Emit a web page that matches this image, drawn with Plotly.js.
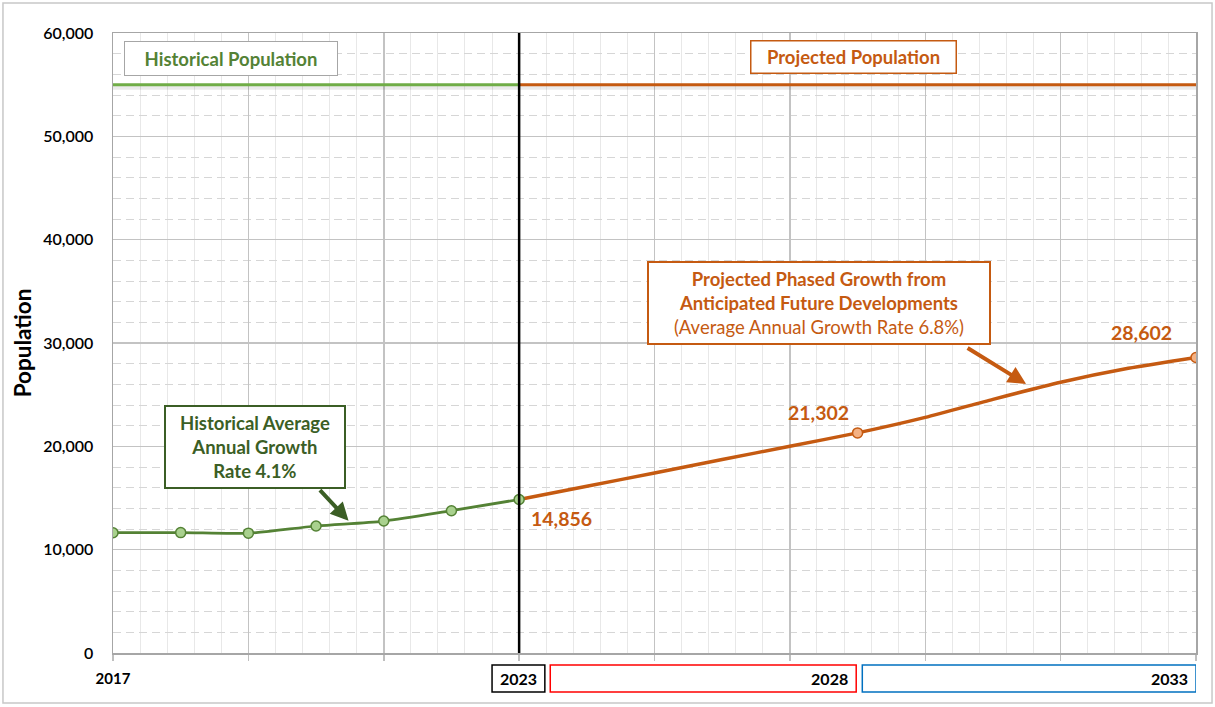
<!DOCTYPE html>
<html>
<head>
<meta charset="utf-8">
<script src="https://cdn.plot.ly/plotly-3.0.1.min.js"></script>
<style>
  html, body { margin: 0; padding: 0; background: #ffffff; }
  #chart { width: 1215px; height: 707px; }
</style>
</head>
<body>
<div id="chart"></div>
<script>
// Population history and projection
const histYears = [2017, 2018, 2019, 2020, 2021, 2022, 2023];
const histPop   = [11640, 11650, 11600, 12290, 12770, 13770, 14856];

const projYears = [2023, 2024, 2025, 2026, 2027, 2028, 2029, 2030, 2031, 2032, 2033];
const projPop   = [14856, 16140, 17420, 18720, 20010, 21302, 22800, 24550, 26200, 27550, 28602];

// years whose projected value is labelled and marked
const labeledYears = [2023, 2028, 2033];

// x-axis tick labels (only the first year is printed on the axis)
const xTickVals  = [2017, 2019, 2021, 2023, 2025, 2027, 2029, 2031, 2033];
const xTickText  = ['2017', '', '', '', '', '', '', '', ''];

// period boxes under the axis
const periodLabels = ['2023', '2028', '2033'];

// band headings
const bandLevel = 55000;
const histHeading = 'Historical Population';
const projHeading = 'Projected Population';
const histNote = 'Historical Average<br>Annual Growth<br>Rate 4.1%';
const projNote = '<b>Projected Phased Growth from</b><br><b>Anticipated Future Developments</b><br>(Average Annual Growth Rate 6.8%)';

const GREEN = '#548235';
const DARK_GREEN = '#3b5e25';
const LIGHT_GREEN = '#a9d18e';
const BAND_GREEN = '#70ad47';
const ORANGE = '#c55a11';
const LIGHT_ORANGE = '#f4b183';
const FONT = 'Lato, "Open Sans", "DejaVu Sans", sans-serif';

const fmt = v => v.toLocaleString('en-US');
const valueAt = yr => projPop[projYears.indexOf(yr)];

const traces = [
  {
    x: projYears, y: projPop, type: 'scatter', mode: 'lines',
    line: { color: ORANGE, width: 3.5, shape: 'spline', smoothing: 0.6 },
    hoverinfo: 'skip', showlegend: false
  },
  {
    x: histYears, y: histPop, type: 'scatter', mode: 'lines+markers',
    line: { color: GREEN, width: 2.75, shape: 'spline', smoothing: 0.8 },
    marker: { size: 10, color: LIGHT_GREEN, line: { color: GREEN, width: 1.5 } },
    hoverinfo: 'skip', showlegend: false
  },
  {
    x: labeledYears.slice(1), y: labeledYears.slice(1).map(valueAt),
    type: 'scatter', mode: 'markers',
    marker: { size: 10, color: LIGHT_ORANGE, line: { color: ORANGE, width: 1.5 } },
    hoverinfo: 'skip', showlegend: false
  }
];

const firstYear = histYears[0];
const splitYear = histYears[histYears.length - 1];
const lastYear = projYears[projYears.length - 1];

const shapes = [
  // outer chart frame
  { type: 'rect', xref: 'paper', yref: 'paper', x0: -0.1016, x1: 1.0148, y0: -0.0806, y1: 1.0484,
    line: { color: '#c8c8c8', width: 1.5 }, layer: 'below' },
  // band lines with a soft shadow
  { type: 'line', xref: 'x', yref: 'y', x0: firstYear, x1: splitYear, y0: bandLevel - 300, y1: bandLevel - 300,
    line: { color: 'rgba(0,0,0,0.08)', width: 4 } },
  { type: 'line', xref: 'x', yref: 'y', x0: splitYear, x1: lastYear, y0: bandLevel - 300, y1: bandLevel - 300,
    line: { color: 'rgba(0,0,0,0.08)', width: 4 } },
  { type: 'line', xref: 'x', yref: 'y', x0: firstYear, x1: splitYear, y0: bandLevel, y1: bandLevel,
    line: { color: BAND_GREEN, width: 3 } },
  { type: 'line', xref: 'x', yref: 'y', x0: splitYear, x1: lastYear, y0: bandLevel, y1: bandLevel,
    line: { color: ORANGE, width: 3 } },
  // divider between history and projection
  { type: 'line', xref: 'x', yref: 'y', x0: splitYear, x1: splitYear, y0: 0, y1: 60000,
    line: { color: '#000000', width: 2.5 } },
  // period boxes below the axis
  { type: 'rect', xref: 'x', yref: 'paper', x0: 2022.6, x1: 2023.38, y0: -0.0629, y1: -0.0194,
    fillcolor: '#ffffff', line: { color: '#000000', width: 1.5 },
    label: { text: '<b>' + periodLabels[0] + '</b>', textposition: 'middle center',
             font: { family: FONT, size: 16, color: '#000000' } } },
  { type: 'rect', xref: 'x', yref: 'paper', x0: 2023.46, x1: 2027.98, y0: -0.0629, y1: -0.0194,
    fillcolor: '#ffffff', line: { color: '#ff0000', width: 1.5 },
    label: { text: '<b>' + periodLabels[1] + '</b>', textposition: 'middle right', padding: 5,
             font: { family: FONT, size: 16, color: '#000000' } } },
  { type: 'rect', xref: 'x', yref: 'paper', x0: 2028.07, x1: 2033, y0: -0.0629, y1: -0.0194,
    fillcolor: '#ffffff', line: { color: '#0070c0', width: 1.5 },
    label: { text: '<b>' + periodLabels[2] + '</b>', textposition: 'middle right', padding: 5,
             font: { family: FONT, size: 16, color: '#000000' } } }
];

const boxBase = { xref: 'paper', yref: 'paper', xanchor: 'center', yanchor: 'middle',
                  showarrow: false, bgcolor: '#ffffff', borderpad: 2 };

const annotations = [
  // band headings
  Object.assign({}, boxBase, { x: 0.109, y: 0.959,
    text: '<b>' + histHeading + '</b>', font: { family: FONT, size: 18.5, color: GREEN },
    bordercolor: '#a6a6a6', borderwidth: 1, width: 208, height: 29 }),
  Object.assign({}, boxBase, { x: 0.6838, y: 0.9605,
    text: '<b>' + projHeading + '</b>', font: { family: FONT, size: 18.5, color: ORANGE },
    bordercolor: ORANGE, borderwidth: 1.5, width: 200, height: 27 }),
  // growth notes
  Object.assign({}, boxBase, { x: 0.1311, y: 0.3323,
    text: '<b>' + histNote + '</b>', font: { family: FONT, size: 18.5, color: DARK_GREEN },
    bordercolor: DARK_GREEN, borderwidth: 2, width: 174, height: 76 }),
  Object.assign({}, boxBase, { x: 0.6519, y: 0.5645,
    text: projNote, font: { family: FONT, size: 18.5, color: ORANGE },
    bordercolor: ORANGE, borderwidth: 2, width: 336, height: 76 }),
  // note arrows
  { xref: 'x', yref: 'y', x: 2020.48, y: 12800, ax: -30, ay: -32, text: '',
    showarrow: true, arrowhead: 2, arrowsize: 0.9, arrowwidth: 4, arrowcolor: DARK_GREEN },
  { xref: 'x', yref: 'y', x: 2030.49, y: 26030, ax: -60, ay: -37, text: '',
    showarrow: true, arrowhead: 2, arrowsize: 0.9, arrowwidth: 4, arrowcolor: ORANGE }
];

// value labels on the projected series
const labelShift = { 2023: [42, -19], 2028: [-39, 20], 2033: [-55, 25] };
labeledYears.forEach(yr => {
  annotations.push({
    xref: 'x', yref: 'y', x: yr, y: valueAt(yr), showarrow: false,
    xanchor: 'center', yanchor: 'middle',
    text: '<b>' + fmt(valueAt(yr)) + '</b>',
    font: { family: FONT, size: 19.5, color: ORANGE },
    xshift: labelShift[yr][0], yshift: labelShift[yr][1]
  });
});

const layout = {
  width: 1215, height: 707,
  margin: { l: 113, r: 19, t: 33, b: 54, pad: 0 },
  paper_bgcolor: '#ffffff', plot_bgcolor: '#ffffff',
  font: { family: FONT, color: '#000000' },
  showlegend: false,
  xaxis: {
    range: [2017, 2033], tickmode: 'array', tickvals: xTickVals, ticktext: xTickText,
    ticks: 'outside', ticklen: 6, tickcolor: '#bfbfbf', tickwidth: 1.5,
    tickfont: { family: FONT, size: 15, color: '#000000', weight: 'bold' },
    ticklabelstandoff: 5,
    showgrid: true, gridcolor: '#c3c3c3', gridwidth: 1.5,
    minor: { tick0: 2017, dtick: 0.4, showgrid: true, gridcolor: '#e8e8e8', gridwidth: 1, ticks: '' },
    showline: true, linecolor: '#a6a6a6', linewidth: 1.5, mirror: true,
    zeroline: false, fixedrange: true
  },
  yaxis: {
    range: [0, 60000], dtick: 10000, tickformat: ',d',
    ticks: '', ticklabelstandoff: 15,
    tickfont: { family: FONT, size: 16, color: '#000000', weight: 600 },
    showgrid: true, gridcolor: '#c3c3c3', gridwidth: 1.5,
    minor: { dtick: 2000, showgrid: true, griddash: '8px,5px', gridcolor: '#d6d6d6', gridwidth: 1, ticks: '' },
    showline: true, linecolor: '#a6a6a6', linewidth: 1.5, mirror: true,
    zeroline: false, fixedrange: true,
    title: { text: '<b>Population</b>', font: { family: FONT, size: 22.5, color: '#000000' }, standoff: 5 }
  },
  shapes: shapes,
  annotations: annotations
};

Plotly.newPlot('chart', traces, layout, { displayModeBar: false, staticPlot: true });
</script>
</body>
</html>
